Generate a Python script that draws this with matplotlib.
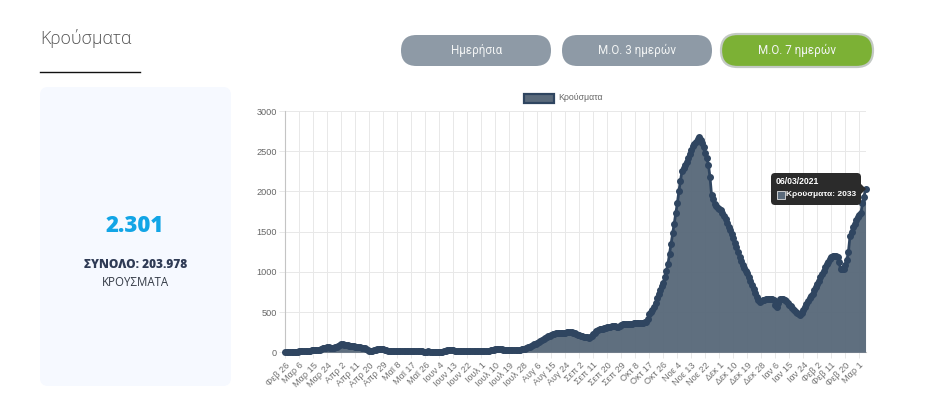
import numpy as np
import matplotlib
matplotlib.use("Agg")
import matplotlib.pyplot as plt
from matplotlib.patches import FancyBboxPatch, Rectangle, Polygon

W, H = 944, 416

tick_labels = ["Φεβ 26","Μαρ 6","Μαρ 15","Μαρ 24","Απρ 2","Απρ 11","Απρ 20","Απρ 29","Μαϊ 8","Μαϊ 17","Μαϊ 26",
               "Ιουν 4","Ιουν 13","Ιουν 22","Ιουλ 1","Ιουλ 10","Ιουλ 19","Ιουλ 28","Αυγ 6","Αυγ 15","Αυγ 24",
               "Σεπ 2","Σεπ 11","Σεπ 20","Σεπ 29","Οκτ 8","Οκτ 17","Οκτ 26","Νοε 4","Νοε 13","Νοε 22",
               "Δεκ 1","Δεκ 10","Δεκ 19","Δεκ 28","Ιαν 6","Ιαν 15","Ιαν 24","Φεβ 2","Φεβ 11","Φεβ 20","Μαρ 1"]
y_ticks = [0, 500, 1000, 1500, 2000, 2500, 3000]
buttons = ["Ημερήσια", "Μ.Ο. 3 ημερών", "Μ.Ο. 7 ημερών"]

# daily 7-day average, 26 Feb 2020 to 6 Mar 2021; one row per nine-day tick interval
cases = [
    2,3,4,4,5,6,7,8,9,
    10,11,13,14,15,18,20,22,23,
    24,25,27,30,33,38,50,55,58,
    60,60,58,57,58,62,72,78,85,
    98,97,95,92,88,84,80,77,73,
    68,66,64,60,58,55,48,42,30,
    18,17,20,28,32,36,38,37,36,
    35,33,28,22,20,18,17,16,15,
    14,14,13,13,13,14,14,15,16,
    18,17,15,13,12,11,10,10,9,
    9,9,10,9,9,9,8,8,7,
    6,5,6,14,20,25,26,26,25,
    24,18,14,12,13,15,16,17,18,
    18,17,16,15,14,14,13,13,14,
    15,16,17,18,20,22,25,28,32,
    36,38,40,40,38,34,32,30,29,
    28,27,26,25,25,26,28,30,35,
    40,46,54,62,70,79,88,98,108,
    118,128,139,150,162,174,186,197,208,
    218,224,230,235,237,239,240,242,244,
    245,250,254,256,250,242,235,228,221,
    215,208,201,195,190,185,183,188,205,
    225,242,260,275,285,290,295,300,305,
    310,314,320,325,324,322,320,320,328,
    340,346,352,355,356,356,355,356,359,
    362,364,366,368,369,370,372,378,410,
    470,500,530,560,610,670,730,775,820,
    860,935,1015,1100,1225,1350,1480,1600,1730,
    1850,2000,2130,2250,2295,2330,2370,2415,2465,
    2510,2560,2595,2620,2650,2674,2640,2600,2550,
    2480,2410,2330,2180,1960,1900,1840,1815,1795,
    1780,1770,1735,1700,1655,1610,1560,1515,1465,
    1420,1360,1305,1250,1190,1135,1080,1045,1010,
    980,935,890,840,790,740,690,650,630,
    640,645,650,660,662,664,665,660,650,
    590,567,610,660,662,660,650,640,615,
    590,570,551,530,505,485,470,468,490,
    530,567,600,640,670,700,730,770,810,
    850,890,930,970,1015,1060,1100,1127,1155,
    1180,1198,1198,1195,1190,1120,1030,1032,1040,
    1080,1148,1250,1440,1500,1560,1600,1645,1680,
    1710,1729,1850,1935,2033,
]
days = np.arange(len(cases))

SANS = "Liberation Sans"
OPEN = "Open Sans"
LINE = "#2f4560"
FILL = "#5a6a7b"

fig = plt.figure(figsize=(W / 100, H / 100), dpi=100, facecolor="white")

# page furniture, in pixel coordinates
bg = fig.add_axes([0, 0, 1, 1])
bg.set_xlim(0, W); bg.set_ylim(H, 0); bg.axis("off")

def rounded(x0, y0, x1, y1, r, fc, ec="none", lw=0, ax=bg, z=1):
    p = FancyBboxPatch((x0 + r, y0 + r), x1 - x0 - 2 * r, y1 - y0 - 2 * r,
                       boxstyle=f"round,pad={r},rounding_size={r}", fc=fc, ec=ec, lw=lw, zorder=z)
    ax.add_patch(p)

bg.text(40, 39, "Κρούσματα", family=OPEN, fontweight="light", fontsize=12.8, color="#555555", ha="left", va="center")
bg.plot([40, 140], [71.5, 71.5], color="#111111", lw=1)
rounded(40, 87, 231, 386, 8, "#f6f9ff")
bg.text(135, 226, "2.301", family=OPEN, fontweight="heavy", fontsize=16, color="#12a5e6", ha="center", va="center")
bg.text(135.5, 265, "ΣΥΝΟΛΟ: 203.978", family=OPEN, fontweight="heavy", fontsize=8.6, color="#2f3b55", ha="center", va="center")
bg.text(135.5, 283, "ΚΡΟΥΣΜΑΤΑ", family=OPEN, fontsize=8.3, color="#333a45", ha="center", va="center")

rounded(401, 35, 551, 66, 15.5, "#8e9aa6")
rounded(562, 35, 712, 66, 15.5, "#8e9aa6")
rounded(721, 34, 873, 67, 16.5, "#7cb135", ec="#c3c9c4", lw=1.6)
for cx, t in zip([476.5, 637, 797], buttons):
    bg.text(cx, 50.5, t, family="Roboto", fontsize=8.4, color="#f2f4f4", ha="center", va="center")

# legend
bg.add_patch(Rectangle((523.5, 93.5), 30, 9.5, fc=FILL, ec=LINE, lw=1.6))
bg.text(558, 98, "Κρούσματα", family=SANS, fontsize=6.3, color="#666666", ha="left", va="center")

# chart
L, R, T, B = 285.3, 866.0, 111.0, 352.3
ax = fig.add_axes([L / W, 1 - B / H, (R - L) / W, (B - T) / H], facecolor="none")
ax.set_xlim(0, 373.3)
ax.set_ylim(0, 3000)
x_ticks = np.arange(len(tick_labels)) * 9
ax.set_xticks(x_ticks)
ax.set_xticklabels(tick_labels, rotation=45, ha="right", va="top", rotation_mode="anchor",
                   family=SANS, fontsize=6.6, color="#707070")
ax.set_yticks(y_ticks)
ax.set_yticklabels([str(v) for v in y_ticks], family=SANS, fontsize=6.6, color="#666666")
ax.tick_params(axis="both", length=4, width=0.7, color="#e8e8e8", pad=2)
ax.grid(True, color="#e8e8e8", lw=0.7)
ax.set_axisbelow(True)
for s in ("top", "right"):
    ax.spines[s].set_visible(False)
for s in ("left", "bottom"):
    ax.spines[s].set_color("#c4c4c4")
    ax.spines[s].set_linewidth(0.8)

ax.fill_between(days, cases, 0, color=FILL, alpha=0.97, lw=0, zorder=3)
ax.plot(days, cases, color=LINE, lw=2.0, marker="o", ms=4.0, mfc=LINE, mec=LINE,
        solid_joinstyle="round", clip_on=False, zorder=4)

# tooltip, in the pixel overlay on top
top = fig.add_axes([0, 0, 1, 1], facecolor="none")
top.set_xlim(0, W); top.set_ylim(H, 0); top.axis("off")
rounded(771, 173, 861, 205, 4, "#2b2b2b", ax=top, z=5)
top.add_patch(Polygon([[861, 184], [866, 189], [861, 194]], fc="#2b2b2b", ec="none", zorder=5))
top.add_patch(Rectangle((776.5, 191), 8, 8, fc=FILL, ec="white", lw=0.5, zorder=6))
top.text(775.5, 181, "06/03/2021", family=SANS, fontweight="bold", fontsize=6.2, color="white", ha="left", va="center", zorder=6)
top.text(786, 195, "Κρούσματα: 2033", family=SANS, fontweight="bold", fontsize=6.0, color="white", ha="left", va="center", zorder=6)

fig.savefig("out.png", dpi=100, facecolor="white")
